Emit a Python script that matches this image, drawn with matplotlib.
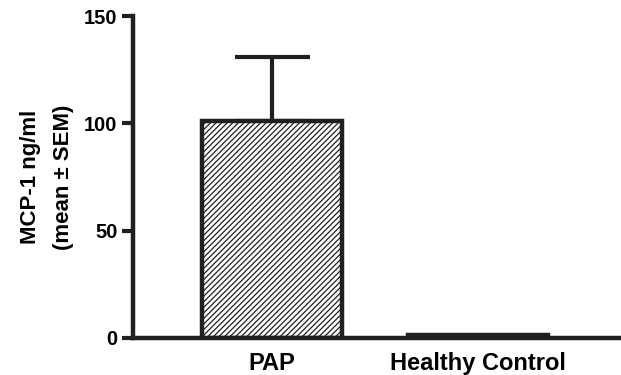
import matplotlib
matplotlib.use("Agg")
import matplotlib.pyplot as plt

categories = ["PAP", "Healthy Control"]
means = [101, 1.5]
sems = [30, 0]
yticks = [0, 50, 100, 150]

plt.rcParams['font.family'] = ['Liberation Sans', 'DejaVu Sans']
plt.rcParams['font.weight'] = 'bold'
plt.rcParams['hatch.linewidth'] = 0.9

fig = plt.figure(figsize=(6.21, 3.75), dpi=100)
ax = fig.add_axes([0.214, 0.099, 0.784, 0.858])

x = [1, 2]
ax.bar(x, means, width=0.68, color='white', edgecolor='#231f20', linewidth=3.2,
       hatch=['//////', ''], zorder=2)
ax.errorbar([x[0]], [means[0]], yerr=[[0], [sems[0]]], fmt='none', ecolor='#231f20',
            elinewidth=3, capsize=27, capthick=3, zorder=1)

ax.set_xlim(0.325, 2.69)
ax.set_ylim(0, 150)
ax.set_yticks(yticks)
ax.set_xticks(x)
ax.set_xticklabels(categories, fontsize=17, fontweight='bold')
ax.tick_params(axis='x', length=0, pad=10)
ax.tick_params(axis='y', length=8, width=3, labelsize=14.5, pad=3, color='#231f20')
for lab in ax.get_yticklabels():
    lab.set_fontweight('bold')
for s in ['top', 'right']:
    ax.spines[s].set_visible(False)
for s in ['left', 'bottom']:
    ax.spines[s].set_linewidth(3.2)
    ax.spines[s].set_color('#231f20')
    ax.spines[s].set_zorder(3)

ax.set_ylabel("MCP-1 ng/ml\n(mean ± SEM)", fontsize=16, fontweight='bold', labelpad=7,
              linespacing=1.75)

fig.savefig("out.png", dpi=100)
